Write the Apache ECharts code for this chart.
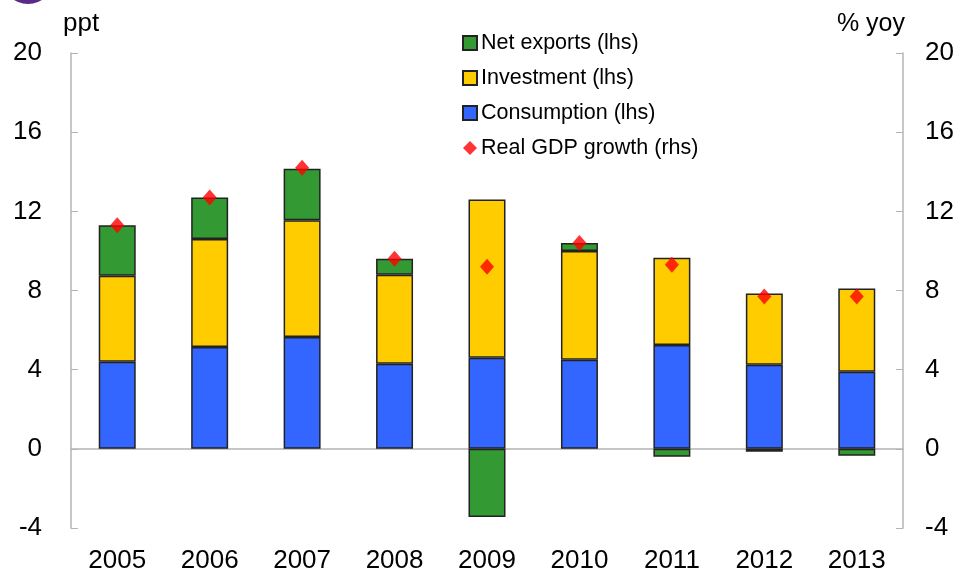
<!DOCTYPE html>
<html>
<head>
<meta charset="utf-8">
<script src="https://cdn.jsdelivr.net/npm/echarts@6/dist/echarts.min.js"></script>
<style>
  html, body { margin: 0; padding: 0; background: #fff; }
  #chart { width: 962px; height: 581px; }
</style>
</head>
<body>
<div id="chart"></div>
<script>
  // data
  var years = ['2005', '2006', '2007', '2008', '2009', '2010', '2011', '2012', '2013'];
  var consumption = [4.4, 5.15, 5.65, 4.3, 4.6, 4.5, 5.25, 4.25, 3.9];
  var investment = [4.35, 5.45, 5.9, 4.5, 8.0, 5.5, 4.4, 3.6, 4.2];
  var netExports = [2.55, 2.1, 2.6, 0.8, -3.45, 0.4, -0.4, -0.15, -0.35];
  var gdpGrowth = [11.3, 12.7, 14.2, 9.6, 9.2, 10.4, 9.3, 7.7, 7.7];
  var yTicks = [-4, 20, 4]; // min, max, step

  var font = 'Liberation Sans, Arial, sans-serif';
  var axisGrey = '#b4b4b4';
  var barBorder = { borderColor: '#222', borderWidth: 1.5 };

  var myChart = echarts.init(document.getElementById('chart'));
  myChart.setOption({
    animation: false,
    textStyle: { fontFamily: font },
    grid: { left: 71, right: 59, top: 53, bottom: 53 },
    graphic: [
      { type: 'circle', shape: { cx: 28, cy: -22, r: 26 }, style: { fill: '#5b2a86' } }
    ],
    legend: {
      orient: 'vertical',
      left: 457,
      top: 27,
      itemGap: 13,
      itemWidth: 14,
      itemHeight: 14,
      textStyle: { fontSize: 21.5, color: '#000', fontFamily: font, padding: [0, 0, 0, -1] },
      data: [
        { name: 'Net exports (lhs)', icon: 'rect' },
        { name: 'Investment (lhs)', icon: 'rect' },
        { name: 'Consumption (lhs)', icon: 'rect' },
        { name: 'Real GDP growth (rhs)', icon: 'diamond', itemStyle: { borderWidth: 0 } }
      ]
    },
    xAxis: [
      {
        type: 'category',
        data: years,
        position: 'bottom',
        axisLine: { show: false, onZero: false },
        axisTick: { show: false },
        axisLabel: { fontSize: 26, color: '#000', margin: 20 }
      },
      {
        type: 'category',
        data: years,
        axisLine: { onZero: true, lineStyle: { color: axisGrey, width: 1.5 } },
        axisTick: { inside: true, length: 8, lineStyle: { color: axisGrey } },
        axisLabel: { show: false }
      }
    ],
    yAxis: [
      {
        type: 'value',
        min: yTicks[0], max: yTicks[1], interval: yTicks[2],
        name: 'ppt',
        nameLocation: 'end',
        nameGap: 16,
        nameTextStyle: { fontSize: 26, color: '#000', align: 'left', padding: [0, 0, 0, -8] },
        axisLine: { show: true, lineStyle: { color: axisGrey, width: 1.5 } },
        axisTick: { show: true, inside: true, length: 7, lineStyle: { color: axisGrey } },
        axisLabel: { fontSize: 26, color: '#000', margin: 29 },
        splitLine: { show: false }
      },
      {
        type: 'value',
        min: yTicks[0], max: yTicks[1], interval: yTicks[2],
        name: '% yoy',
        nameLocation: 'end',
        nameGap: 16,
        nameTextStyle: { fontSize: 25, color: '#000', align: 'right', padding: [0, -2, 0, 0] },
        axisLine: { show: true, lineStyle: { color: axisGrey, width: 1.5 } },
        axisTick: { show: true, inside: true, length: 7, lineStyle: { color: axisGrey } },
        axisLabel: { fontSize: 26, color: '#000', margin: 22 },
        splitLine: { show: false }
      }
    ],
    series: [
      {
        name: 'Consumption (lhs)',
        type: 'bar',
        stack: 'gdp',
        barWidth: '40%',
        data: consumption,
        itemStyle: Object.assign({ color: '#3366ff' }, barBorder)
      },
      {
        name: 'Investment (lhs)',
        type: 'bar',
        stack: 'gdp',
        data: investment,
        itemStyle: Object.assign({ color: '#ffcc00' }, barBorder)
      },
      {
        name: 'Net exports (lhs)',
        type: 'bar',
        stack: 'gdp',
        data: netExports,
        itemStyle: Object.assign({ color: '#339933' }, barBorder)
      },
      {
        name: 'Real GDP growth (rhs)',
        type: 'scatter',
        yAxisIndex: 1,
        symbol: 'diamond',
        symbolSize: [14, 16],
        data: gdpGrowth,
        itemStyle: { color: '#ff0000' },
        z: 5
      }
    ]
  });
</script>
</body>
</html>
